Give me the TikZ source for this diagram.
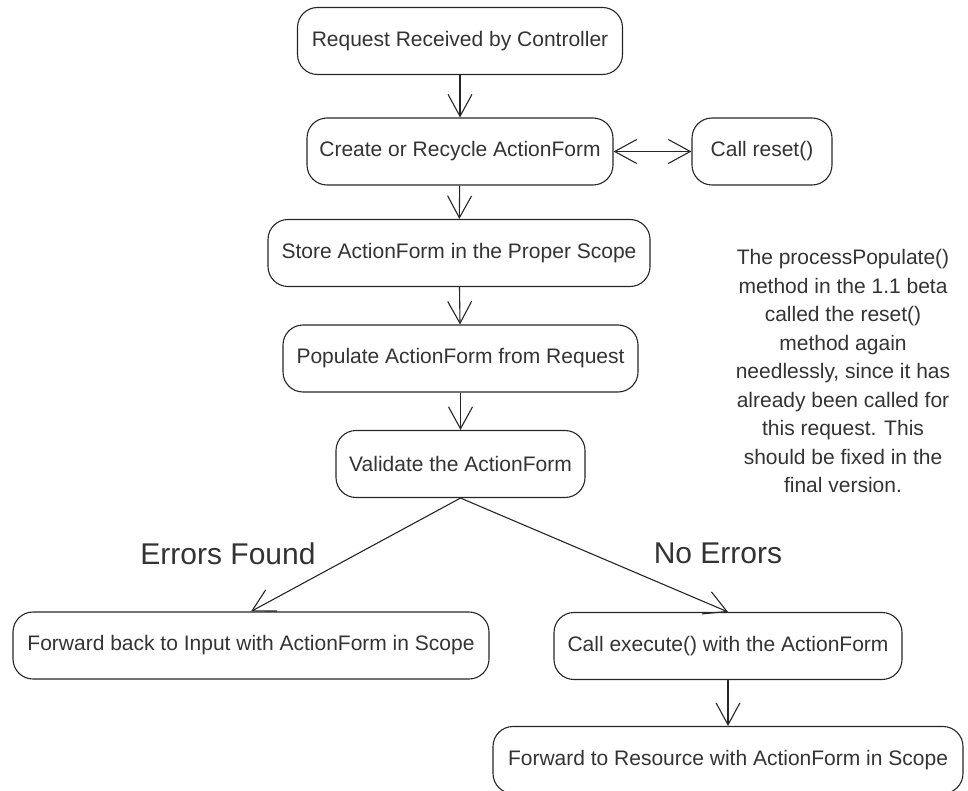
\documentclass[tikz,border=0pt]{standalone}
\usepackage{fontspec}
\setmainfont{Liberation Sans}
\usetikzlibrary{arrows.meta}

\begin{document}
\begin{tikzpicture}[x=1pt, y=-1pt,
	every node/.style={font=\fontsize{21}{27}\selectfont, text=black!80},
	stage/.style={draw=black!85, rounded corners=20pt, minimum height=67pt, inner xsep=8pt, line width=1.1pt},
	flow/.style={draw=black!85, line width=1.1pt},
	big/.style={font=\fontsize{30}{36}\selectfont},
	>={Straight Barb[length=22pt, width=24pt]}]
	\useasboundingbox (0,0) rectangle (968,791);
	\node[stage, minimum width=325pt] (req) at (460,41) {Request Received by Controller};
	\node[stage, minimum width=306pt] (create) at (460,151.5) {Create or Recycle ActionForm};
	\node[stage, minimum width=140pt] (reset) at (762,151.5) {Call reset()};
	\node[stage, minimum width=382pt] (store) at (459,253) {Store ActionForm in the Proper Scope};
	\node[stage, minimum width=355pt] (populate) at (460.5,358.5) {Populate ActionForm from Request};
	\node[stage, minimum width=249pt] (validate) at (460.5,464) {Validate the ActionForm};
	\node[stage, minimum width=476pt] (fwdback) at (251,645.5) {Forward back to Input with ActionForm in Scope};
	\node[stage, minimum width=348pt] (execute) at (728,646) {Call execute() with the ActionForm};
	\node[stage, minimum width=470pt] (fwdres) at (728,760) {Forward to Resource with ActionForm in Scope};
	% note beside the flow
	\node[align=center, font=\fontsize{21}{28.5}\selectfont] (note) at (843,371)
		{The processPopulate()\\method in the 1.1 beta\\called the reset()\\method again\\needlessly, since it has\\already been called for\\this request. This\\should be fixed in the\\final version.};
	\node[big] (errlbl) at (228,554) {Errors Found};
	\node[big] (oklbl) at (718,553) {No Errors};
	\draw[flow, ->] (req) -- (create);
	\draw[flow, <->] (create) -- (reset);
	\draw[flow, ->] (create) -- (store);
	\draw[flow, ->] (store) -- (populate);
	\draw[flow, ->] (populate) -- (validate);
	\draw[flow, ->] (validate.south) -- (fwdback.north);
	\draw[flow, ->] (validate.south) -- (execute.north);
	\draw[flow, ->] (execute) -- (fwdres);
\end{tikzpicture}
\end{document}
